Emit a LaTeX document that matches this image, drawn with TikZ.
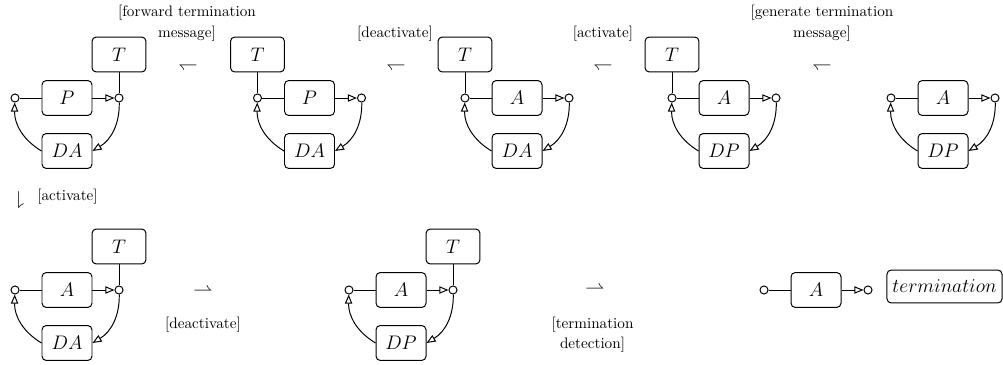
\RequirePackage{fix-cm}
\documentclass[tikz,border=0pt]{standalone}
\usetikzlibrary{arrows.meta}
\tikzset{
  box/.style={draw, rounded corners=2.8pt, minimum width=32.9pt, minimum height=23pt, inner sep=2pt, font=\fontsize{12.9}{15}\selectfont, line width=0.65pt},
  tbox/.style={box, minimum width=35.5pt},
  port/.style={circle, draw, minimum size=5.3pt, inner sep=0pt, line width=0.65pt},
  conn/.style={line width=0.65pt},
  tip/.style={-{Triangle[open, length=6pt, width=4.8pt, line width=0.65pt]}},
  lbl/.style={font=\fontsize{10}{13.5}\selectfont, align=center, inner sep=0pt, anchor=south},
  harp/.style={font=\fontsize{12.9}{15}\selectfont, inner sep=0pt}
}
\newcommand{\mydiag}[5]{%
  \node[port] (#1L) at (#2,#3) {};
  \node[box] (#1M) at ({#2+52},#3) {$#4$};
  \node[port] (#1R) at ({#2+104},#3) {};
  \node[box] (#1D) at ({#2+52},{#3+53}) {$#5$};
  \draw[conn] (#1L) -- (#1M);
  \draw[conn,tip] (#1M) -- (#1R);
  \draw[conn,tip] (#1R) to[bend left=30] (#1D.east);
  \draw[conn,tip] (#1D.west) to[bend left=30] (#1L);
}
\begin{document}
\begin{tikzpicture}[x=0.658pt,y=-0.658pt]
\path[use as bounding box] (0,0) rectangle (1003,365);
% top row
\mydiag{a}{15}{98}{P}{DA}
\node[tbox] (aT) at (119,54.5) {$T$};
\draw[conn] (aT) -- (aR);
\mydiag{b}{257.5}{98}{P}{DA}
\node[tbox] (bT) at (257.5,54.5) {$T$};
\draw[conn] (bT) -- (bL);
\mydiag{c}{465}{98}{A}{DA}
\node[tbox] (cT) at (465,54.5) {$T$};
\draw[conn] (cT) -- (cL);
\mydiag{d}{672}{98}{A}{DP}
\node[tbox] (dT) at (672,54.5) {$T$};
\draw[conn] (dT) -- (dL);
\mydiag{e}{891}{98}{A}{DP}
% top labels and harpoons
\node[lbl] (l1) at (187,41.5) {[forward termination\\message]};
\node[harp, rotate=180] (h1) at (188,64) {$\rightharpoonup$};
\node[lbl] (l2) at (395,41.5) {[deactivate]};
\node[harp, rotate=180] (h2) at (396,64) {$\rightharpoonup$};
\node[lbl] (l3) at (603,41.5) {[activate]};
\node[harp, rotate=180] (h3) at (603,64) {$\rightharpoonup$};
\node[lbl] (l4) at (822,41.5) {[generate termination\\message]};
\node[harp, rotate=180] (h4) at (822,64) {$\rightharpoonup$};
% down transition
\node[harp, rotate=-90] (h5) at (17.5,200.5) {$\rightharpoonup$};
\node[lbl] (l5) at (67.5,205) {[activate]};
% bottom row
\mydiag{f}{15}{290}{A}{DA}
\node[tbox] (fT) at (119,246.5) {$T$};
\draw[conn] (fT) -- (fR);
\mydiag{g}{349}{290}{A}{DP}
\node[tbox] (gT) at (453,246.5) {$T$};
\draw[conn] (gT) -- (gR);
\node[port] (hL) at (764,290) {};
\node[box] (hM) at (816,290) {$A$};
\node[port] (hR) at (868,290) {};
\draw[conn] (hL) -- (hM);
\draw[conn,tip] (hM) -- (hR);
\node[box, minimum width=75.7pt, minimum height=21.7pt] (term) at (944.5,286.5) {$termination$};
% bottom harpoons and labels
\node[harp] (h6) at (203,292) {$\rightharpoonup$};
\node[lbl] (l6) at (203,333) {[deactivate]};
\node[harp] (h7) at (595,290) {$\rightharpoonup$};
\node[lbl] (l7) at (592.5,353) {[termination\\detection]};
\end{tikzpicture}
\end{document}
